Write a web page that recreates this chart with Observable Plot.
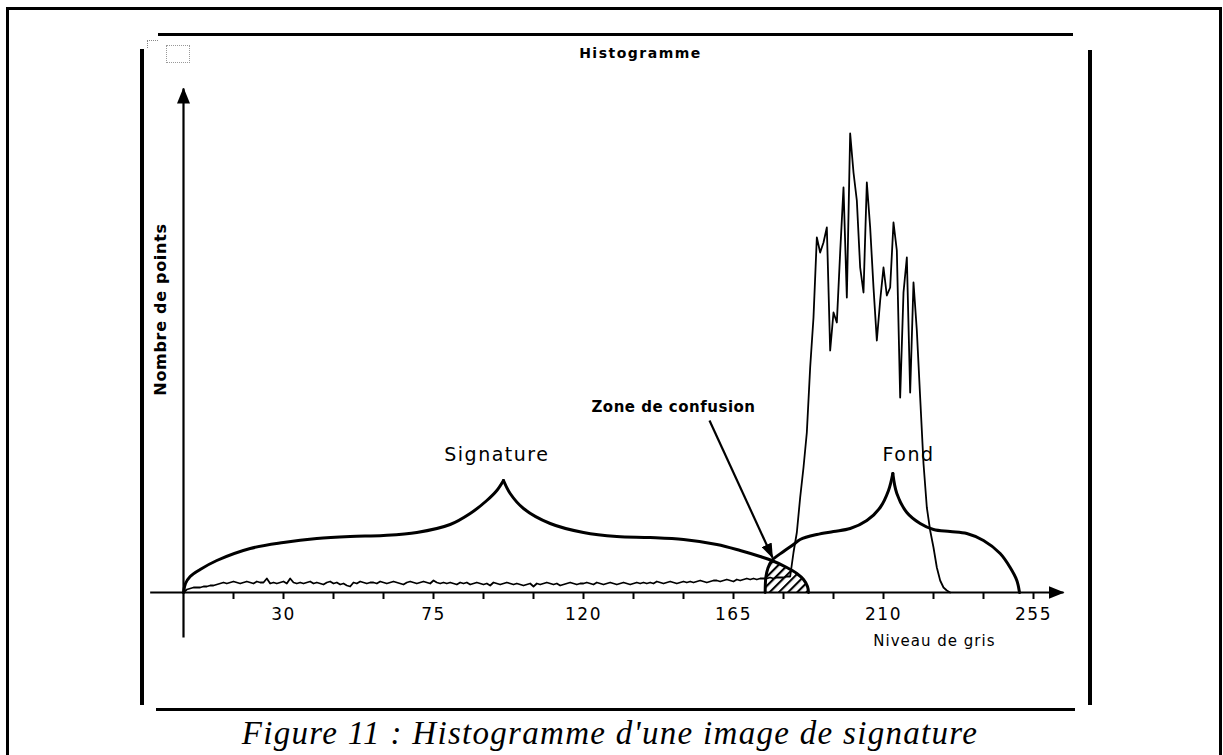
<!DOCTYPE html>
<html>
<head>
<meta charset="utf-8">
<script src="https://cdn.jsdelivr.net/npm/d3@7"></script>
<script src="https://cdn.jsdelivr.net/npm/@observablehq/plot@0.6"></script>
<style>
  html, body { margin: 0; padding: 0; background: #fff; }
  #page { position: relative; width: 1223px; height: 755px; overflow: hidden; background: #fff; }
  #outer { position: absolute; left: 6px; top: 7px; width: 1216px; height: 820px; border: 3px solid #000; box-sizing: border-box; }
  .hl { position: absolute; background: #000; }
  #icon { position: absolute; left: 166px; top: 45px; width: 24px; height: 18px; border: 1px dotted #999; box-sizing: border-box; }
  #corner { position: absolute; left: 147px; top: 40px; width: 10px; height: 7px; border-left: 1px dotted #888; border-top: 1px dotted #888; }
  #chart { position: absolute; left: 0; top: 0; }
  #caption { position: absolute; left: 0; top: 714px; width: 1220px; text-align: center;
    font-family: "Liberation Serif", "Times New Roman", serif; font-style: italic; font-size: 33px; letter-spacing: 1.3px; line-height: 38px; }
</style>
</head>
<body>
<div id="page">
  <div id="outer"></div>
  <div class="hl" style="left:158px;top:33px;width:915px;height:3px"></div>
  <div class="hl" style="left:140px;top:49px;width:4px;height:656px"></div>
  <div class="hl" style="left:1088px;top:50px;width:4px;height:655px"></div>
  <div class="hl" style="left:156px;top:708px;width:919px;height:3px"></div>
  <div id="corner"></div>
  <div id="icon"></div>
  <div id="chart"></div>
  <div id="caption">Figure 11 : Histogramme d'une image de signature</div>
</div>
<script>
// ---- Data ----
// Histogram counts per gray level 0..230 (arbitrary units)
const histCounts = [
  0,3,4,5,5,5,6,6,7,7,8,9,10,9,10,11,10,9,10,11,
  10,9,11,10,10,14,9,10,9,10,11,9,14,10,9,10,9,10,11,9,
  10,9,8,10,11,9,10,8,9,7,6,10,9,11,10,9,10,10,9,11,
  10,9,10,11,10,9,8,10,11,10,9,10,11,10,9,12,10,9,10,9,
  10,9,8,10,9,10,8,9,10,9,8,9,7,10,9,8,9,10,9,8,
  9,8,7,8,9,6,9,8,9,10,9,8,9,7,8,9,10,9,8,9,
  9,10,9,8,10,9,8,9,10,9,8,9,10,9,8,9,10,9,10,9,
  10,9,11,10,9,10,11,10,9,10,11,10,11,10,11,12,11,10,11,12,
  12,11,12,13,12,11,13,12,13,14,13,14,13,14,14,14,15,14,15,15,
  15,16,16,40,60,95,125,160,225,275,355,340,350,365,242,280,270,340,405,295,
  459,420,392,325,300,410,365,305,252,292,325,297,305,370,342,195,300,335,200,310,
  262,195,129,85,62,45,25,12,5,2,0
];

// "Signature" brace (left half, right half): gray level and height
const sigLeftG  = [0, 0.6, 2, 5, 10, 20, 30, 40, 50, 60, 70, 80, 86, 91, 94, 96];
const sigLeftH  = [0, 9, 16, 23, 32, 44, 50, 54, 56, 57, 60, 68, 79, 92, 102, 112];
const sigRightG = [96, 98, 102, 110, 120, 130, 140, 150, 160, 167, 173, 176.5, 181, 184, 186, 187.2, 187.5];
const sigRightH = [112, 99, 84, 69, 60, 56, 55, 53, 48, 42, 36, 32, 25, 19, 13, 6, 0];

// "Fond" brace
const fondLeftG  = [174.5, 174.7, 175.3, 176.5, 180, 183, 185, 190, 195, 200, 205, 209, 211.5, 212.8];
const fondLeftH  = [0, 15, 24, 32, 41, 48, 53, 58, 61, 64, 72, 85, 102, 119];
const fondRightG = [212.8, 214, 217, 221, 225, 230, 235, 240, 245, 248, 250, 250.8];
const fondRightH = [119, 99, 80, 69, 63, 61, 59, 52, 39, 25, 12, 0];

const xTicks = [15, 30, 45, 60, 75, 90, 105, 120, 135, 150, 165, 180, 195, 210, 225, 240, 255];
const xTickLabels = [30, 75, 120, 165, 210, 255];

const labels = ["Signature", "Fond", "Zone de confusion"];
const axisTitles = { x: "Niveau de gris", y: "Nombre de points", title: "Histogramme" };

// ---- Tables built from the arrays ----
const hist = histCounts.map((c, i) => ({ g: i, c }));
const toPts = (G, H, side) => G.map((g, i) => ({ g, h: H[i], side }));
const sigBrace = [...toPts(sigLeftG, sigLeftH, "L"), ...toPts(sigRightG, sigRightH, "R")];
const fondBrace = [...toPts(fondLeftG, fondLeftH, "L"), ...toPts(fondRightG, fondRightH, "R")];
// confusion zone: under both braces (fond left edge up to the crossing, then signature right edge)
const cross = 176.5;
const zone = [
  ...toPts(fondLeftG, fondLeftH).filter(d => d.g <= cross),
  ...toPts(sigRightG, sigRightH).filter(d => d.g > cross)
];

const chart = Plot.plot({
  width: 1223,
  height: 720,
  marginLeft: 183,
  marginRight: 190,
  marginTop: 92,
  marginBottom: 128,
  style: "font-family: 'DejaVu Sans', Verdana, sans-serif; font-size: 17px; letter-spacing: 1.5px; background: transparent; color: #000;",
  x: { domain: [0, 255] },
  y: { domain: [0, 500], axis: null },
  marks: [
    // hatched confusion zone
    Plot.areaY(zone, { x: "g", y: "h", fill: "url(#hatch)", curve: "linear" }),
    // axes lines with arrows (x axis, y axis)
    Plot.link([0], { x1: -10, x2: 264, y1: 0, y2: 0, stroke: "#000", strokeWidth: 2.2 }),
    Plot.link([0], { x1: 0, x2: 0, y1: -45, y2: 504, stroke: "#000", strokeWidth: 2.2 }),
    Plot.axisX({
      ticks: xTicks, tickSize: 7, tickPadding: 8, strokeWidth: 2,
      tickFormat: d => xTickLabels.includes(d) ? String(d) : "",
      fontSize: 17, label: null
    }),
    // histogram
    Plot.line(hist, { x: "g", y: "c", stroke: "#000", strokeWidth: 1.8, curve: "linear" }),
    // braces
    Plot.line(sigBrace, { x: "g", y: "h", z: "side", stroke: "#000", strokeWidth: 3, curve: "catmull-rom" }),
    Plot.line(fondBrace, { x: "g", y: "h", z: "side", stroke: "#000", strokeWidth: 3, curve: "catmull-rom" }),
    // annotation arrow
    Plot.link([0], { x1: 157.8, y1: 172, x2: 176.7, y2: 35, stroke: "#000", strokeWidth: 2.2 }),
    // annotation texts
    Plot.text([labels[0]], { x: 94, y: 138, text: d => d, fontSize: 19 }),
    Plot.text([labels[1]], { x: 217.5, y: 138, text: d => d, fontSize: 19 }),
    Plot.text([labels[2]], { x: 147, y: 185, text: d => d, fontSize: 15, fontWeight: "bold" }),
    // axis titles & chart title
    Plot.text([axisTitles.x], { frameAnchor: "bottom-right", dx: -38, dy: 53, textAnchor: "end", text: d => d, fontSize: 15 }),
    Plot.text([axisTitles.y], { x: -6.9, y: 283, rotate: -90, text: d => d, fontSize: 16, fontWeight: "bold" }),
    Plot.text([axisTitles.title], { frameAnchor: "top", dx: 32, dy: -44, text: d => d, fontSize: 14, fontWeight: "bold" })
  ]
});

const ns = "http://www.w3.org/2000/svg";
const defs = document.createElementNS(ns, "defs");
defs.innerHTML = `
  <pattern id="hatch" patternUnits="userSpaceOnUse" width="6.5" height="6.5" patternTransform="rotate(45)">
    <line x1="1" y1="-1" x2="1" y2="8" stroke="#000" stroke-width="2.2"></line>
  </pattern>
  <marker id="ahAxis" markerUnits="userSpaceOnUse" viewBox="0 0 16 13" markerWidth="16" markerHeight="13" refX="15" refY="6.5" orient="auto">
    <path d="M0,0L16,6.5L0,13Z" fill="#000" stroke="none"></path>
  </marker>
  <marker id="ahNote" markerUnits="userSpaceOnUse" viewBox="0 0 15 11" markerWidth="15" markerHeight="11" refX="14" refY="5.5" orient="auto">
    <path d="M0,0L15,5.5L0,11Z" fill="#000" stroke="none"></path>
  </marker>`;
chart.insertBefore(defs, chart.firstChild);
const linkGroups = chart.querySelectorAll('g[aria-label="link"]');
linkGroups.forEach((g, i) => {
  g.querySelectorAll("path, line").forEach(p => p.setAttribute("marker-end", i < 2 ? "url(#ahAxis)" : "url(#ahNote)"));
});
chart.querySelectorAll("text").forEach(t => {
  const s = t.textContent;
  if (s === labels[2]) t.style.letterSpacing = "0.5px";
  if (s === axisTitles.y) t.style.letterSpacing = "0.7px";
  if (s === axisTitles.x) t.style.letterSpacing = "1px";
});
document.getElementById("chart").appendChild(chart);
</script>
</body>
</html>
